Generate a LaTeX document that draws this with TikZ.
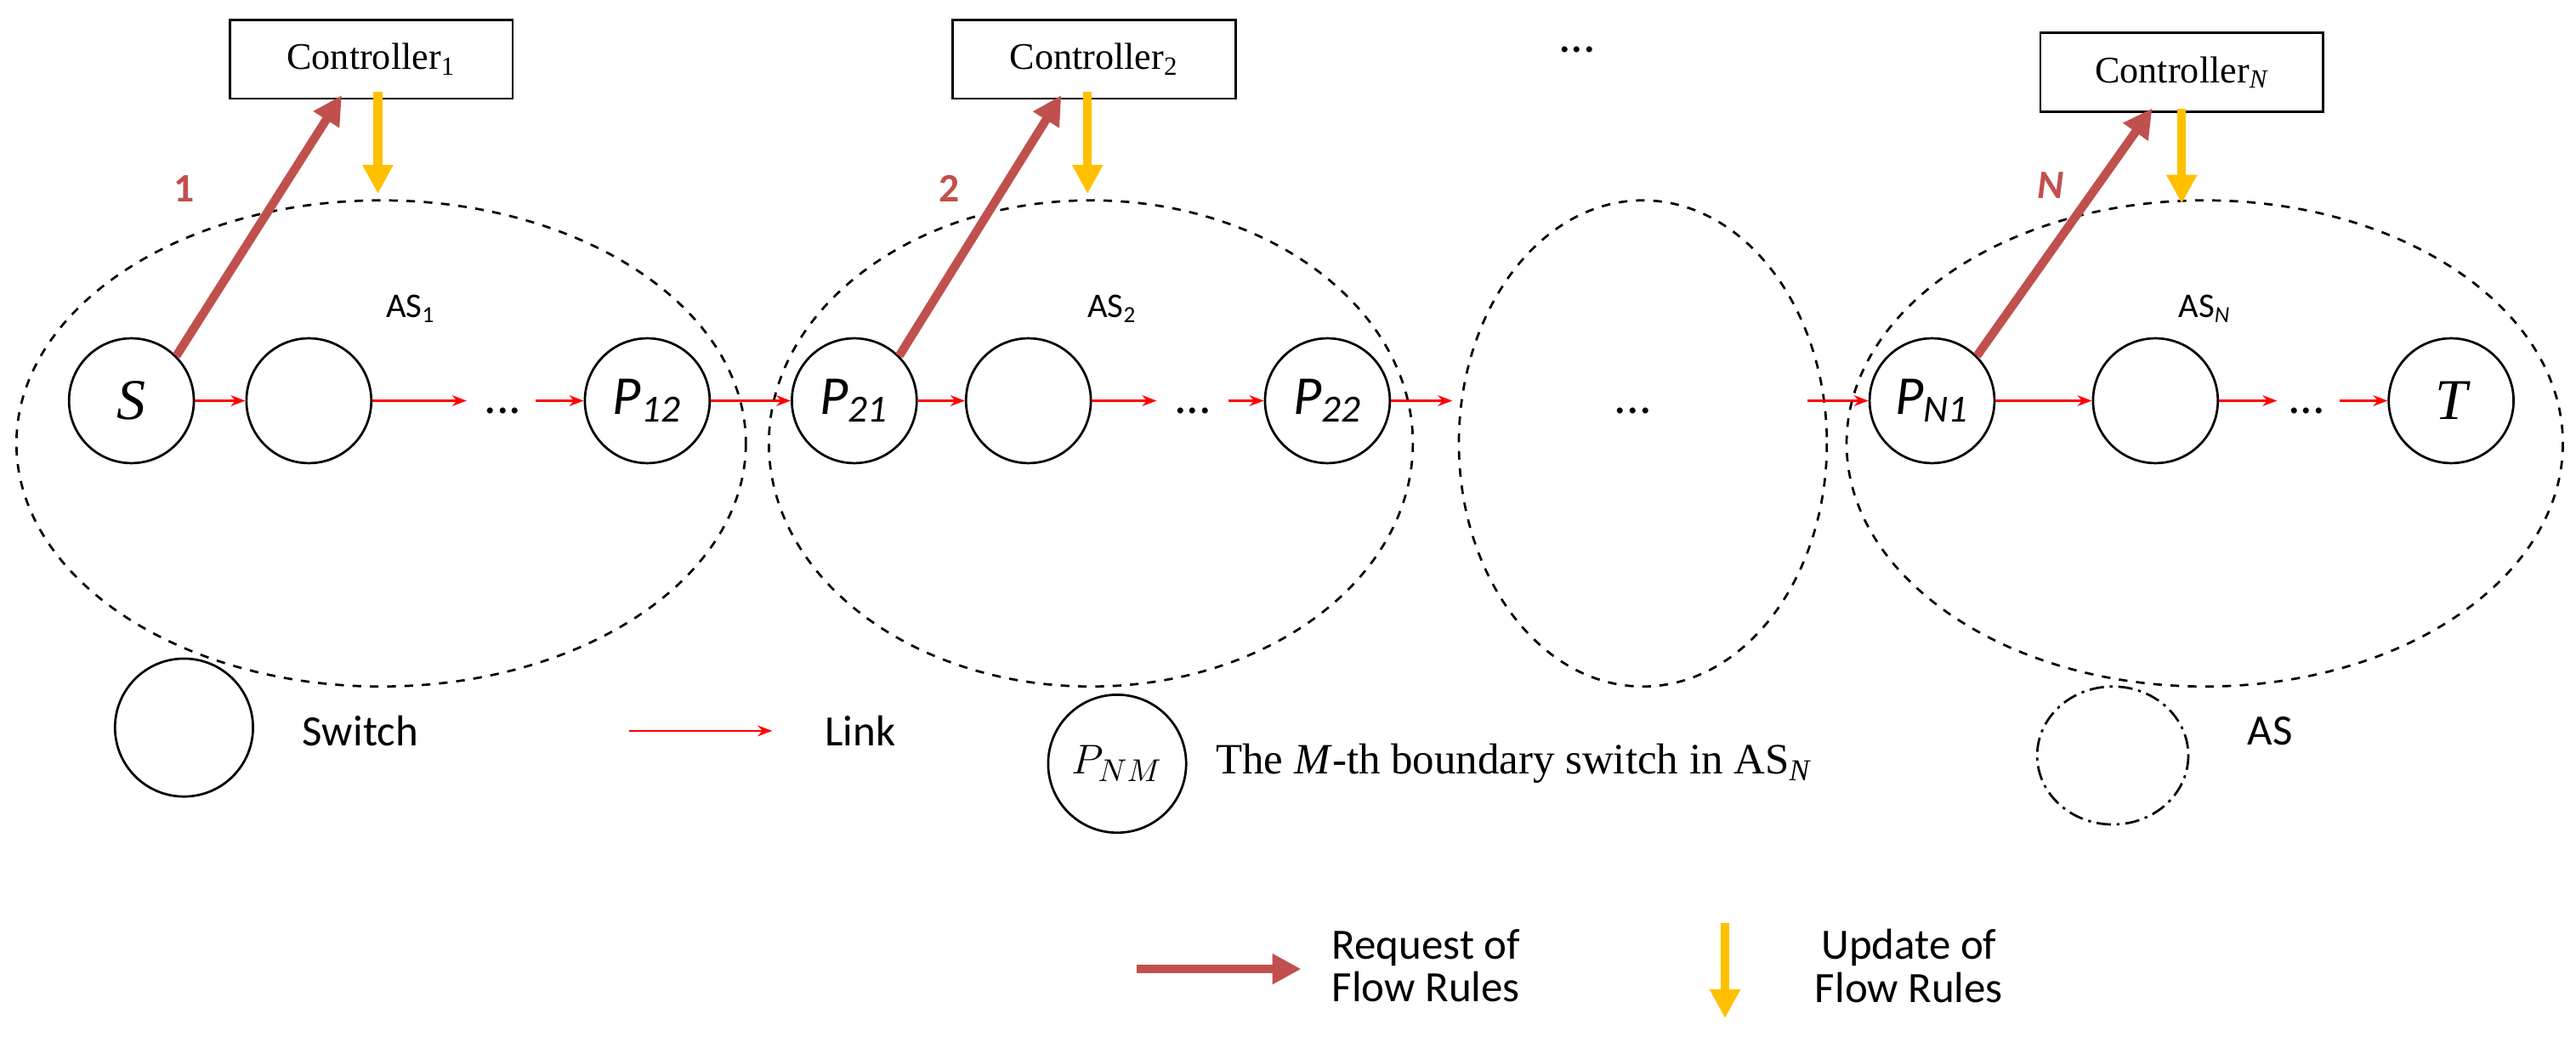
\documentclass[tikz,border=0pt]{standalone}
\usepackage{fontspec}
\setmainfont{Liberation Serif}
\newfontfamily\carl{Carlito}
\usetikzlibrary{arrows.meta}
\definecolor{req}{HTML}{C0504D}
\definecolor{upd}{HTML}{FFC000}
\begin{document}
\begin{tikzpicture}[x=0.02cm,y=-0.02cm,
 sw/.style={circle,draw,thick,minimum size=76*0.02cm,inner sep=0pt,font=\carl\itshape\fontsize{19}{19}\selectfont},
 ctl/.style={draw,thick,minimum width=172*0.02cm,minimum height=48*0.02cm,font=\fontsize{13}{13}\selectfont},
 lk/.style={red,thick,-{Stealth[length=5pt]}},
 rq/.style={req,line width=3pt,-{Triangle[length=10pt,width=10pt]}},
 up/.style={upd,line width=3pt,-{Triangle[length=10pt,width=10pt]}},
 lab/.style={font=\carl\fontsize{15}{15}\selectfont},
 asl/.style={font=\carl\fontsize{12}{12}\selectfont},
 dots/.style={font=\carl\fontsize{17}{17}\selectfont}]
\useasboundingbox (0,0) rectangle (1568,634);
% ellipses
\draw[thick,dashed] (232,270) ellipse [x radius=222,y radius=148];
\draw[thick,dashed] (664,270) ellipse [x radius=196,y radius=148];
\draw[thick,dashed] (1000,270) ellipse [x radius=112,y radius=148];
\draw[thick,dashed] (1342,270) ellipse [x radius=218,y radius=148];
\node[asl] (a1) at (250,188) {AS\textsubscript{1}};
\node[asl] (a2) at (677,188) {AS\textsubscript{2}};
\node[asl] (aN) at (1342,188) {AS\textsubscript{\itshape N}};
% controllers
\node[ctl] (c1) at (226,36) {Controller\textsubscript{1}};
\node[ctl] (c2) at (666,36) {Controller\textsubscript{2}};
\node[ctl] (cN) at (1328,44) {Controller\textsubscript{\itshape N}};
\node[dots] (cd) at (960,30) {...};
% switches
\node[sw,font=\itshape\fontsize{20}{20}\selectfont] (S) at (80,244) {S};
\node[sw] (e1) at (188,244) {};
\node[dots] (d1) at (306,250) {...};
\node[sw] (p12) at (394,244) {P\textsubscript{12}};
\node[sw] (p21) at (520,244) {P\textsubscript{21}};
\node[sw] (e2) at (626,244) {};
\node[dots] (d2) at (726,250) {...};
\node[sw] (p22) at (808,244) {P\textsubscript{22}};
\node[dots] (dm) at (994,250) {...};
\node[sw] (pN1) at (1176,244) {P\textsubscript{N1}};
\node[sw] (e3) at (1312,244) {};
\node[dots] (d3) at (1404,250) {...};
\node[sw,font=\itshape\fontsize{20}{20}\selectfont] (T) at (1492,244) {T};
\coordinate (m1) at (884,244);
\coordinate (m2) at (1100,244);
\coordinate (q1) at (284,244);
\coordinate (q2) at (326,244);
\coordinate (q3) at (704,244);
\coordinate (q4) at (748,244);
\coordinate (q5) at (1386,244);
\coordinate (q6) at (1424,244);
% links
\draw[lk] (S) -- (e1);
\draw[lk] (e1) -- (q1);
\draw[lk] (q2) -- (p12);
\draw[lk] (p12) -- (p21);
\draw[lk] (p21) -- (e2);
\draw[lk] (e2) -- (q3);
\draw[lk] (q4) -- (p22);
\draw[lk] (p22) -- (m1);
\draw[lk] (m2) -- (pN1);
\draw[lk] (pN1) -- (e3);
\draw[lk] (e3) -- (q5);
\draw[lk] (q6) -- (T);
% requests
\coordinate (r1) at (208,58);
\coordinate (r2) at (646,58);
\coordinate (r3) at (1310,66);
\draw[rq] (S.north east) -- (r1);
\draw[rq] (p21.north east) -- (r2);
\draw[rq] (pN1.north east) -- (r3);
\node[font=\carl\bfseries\fontsize{14}{14}\selectfont,text=req] (n1) at (112,115) {1};
\node[font=\carl\bfseries\fontsize{14}{14}\selectfont,text=req] (n2) at (578,115) {2};
\node[font=\carl\bfseries\itshape\fontsize{14}{14}\selectfont,text=req] (nN) at (1248,113) {N};
% updates
\coordinate (u0) at (230,56);
\coordinate (v0) at (662,56);
\coordinate (w0) at (1328,66);
\coordinate (u1) at (230,118);
\coordinate (u2) at (662,118);
\coordinate (u3) at (1328,124);
\draw[up] (u0) -- (u1);
\draw[up] (v0) -- (u2);
\draw[up] (w0) -- (u3);
% legend
\node[sw,minimum size=84*0.02cm] (ls) at (112,443) {};
\node[lab,anchor=west] (lst) at (178,445) {Switch};
\coordinate (la) at (383,445);
\coordinate (lb) at (470,445);
\draw[lk] (la) -- (lb);
\node[lab,anchor=west] (lkt) at (496,445) {Link};
\node[sw,minimum size=84*0.02cm,font=\itshape\fontsize{15}{15}\selectfont] (lp) at (680,465) {$P_{NM}$};
\node[anchor=west,font=\fontsize{15}{15}\selectfont] (lpt) at (734,465) {The \textit{M}-th boundary switch in AS\textsubscript{\itshape N}};
\draw[thick,dash pattern=on 5pt off 2pt on 1pt off 2pt] (1286,460) ellipse [x radius=46,y radius=42];
\node[lab,anchor=west] (lat) at (1362,445) {AS};
\coordinate (ra) at (692,590);
\coordinate (rb) at (792,590);
\draw[rq] (ra) -- (rb);
\node[lab,align=center] (rt) at (868,588) {Request of\\Flow Rules};
\coordinate (ua) at (1050,562);
\coordinate (ub) at (1050,620);
\draw[up] (ua) -- (ub);
\node[lab,align=center] (ut) at (1162,588) {Update of\\Flow Rules};
\end{tikzpicture}
\end{document}
